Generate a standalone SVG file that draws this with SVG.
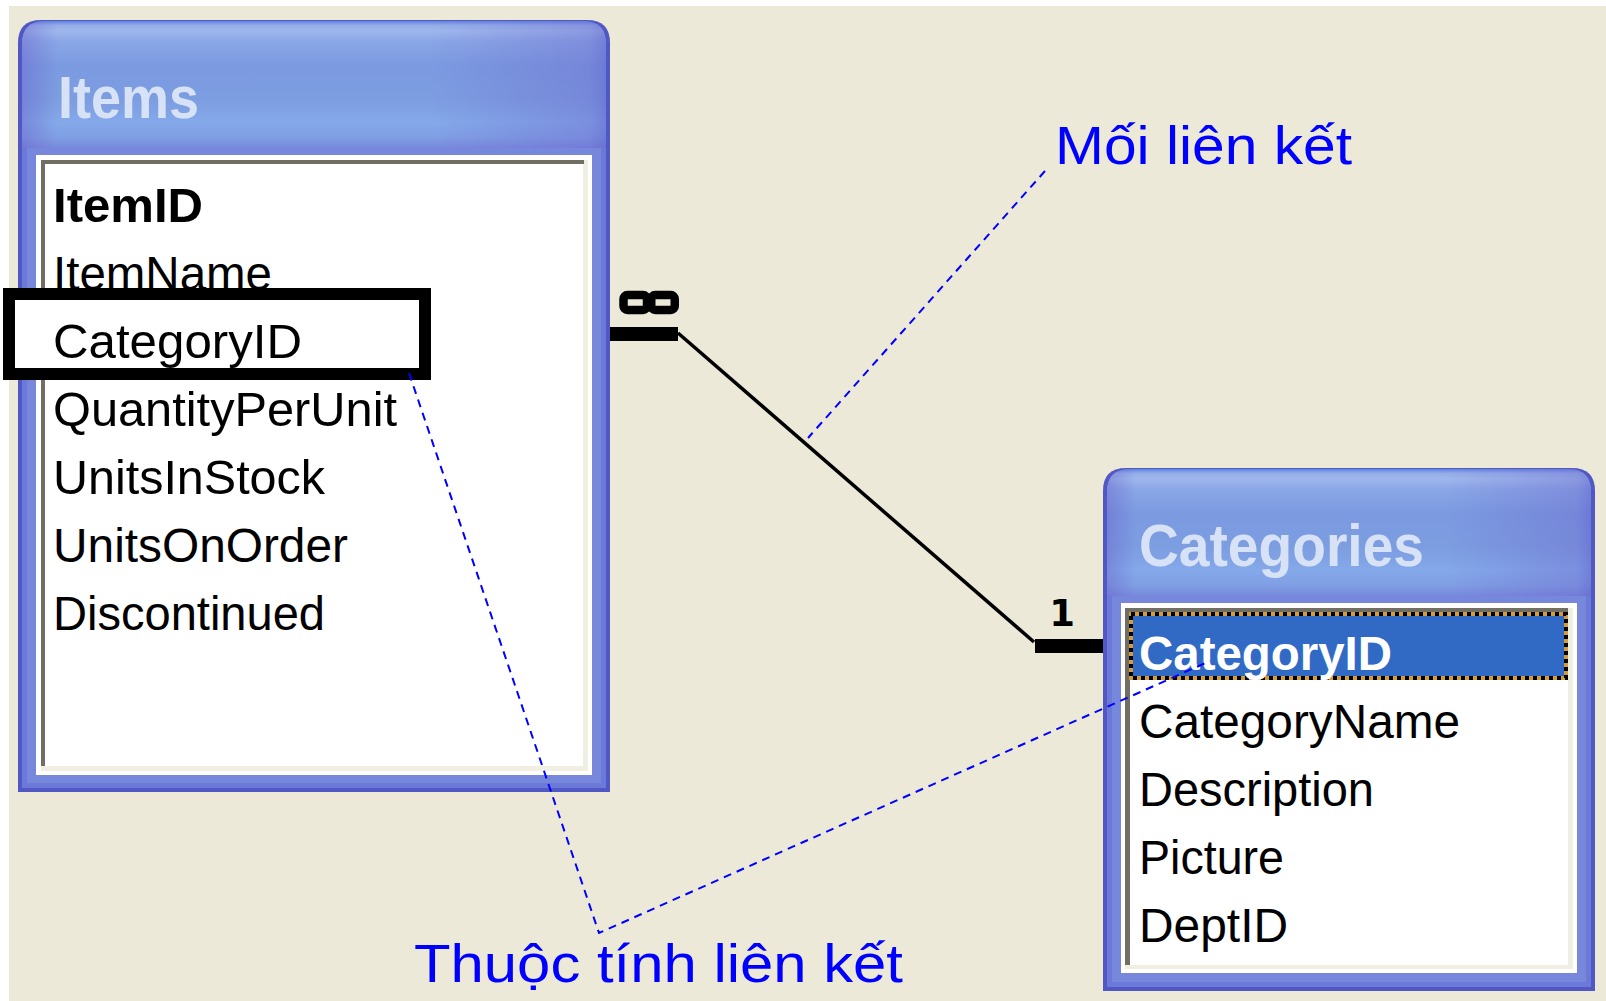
<svg xmlns="http://www.w3.org/2000/svg" width="1606" height="1001" viewBox="0 0 1606 1001">
<defs>
<linearGradient id="tv" x1="0" y1="0" x2="0" y2="1">
 <stop offset="0" stop-color="#6283DF"/>
 <stop offset="0.035" stop-color="#94AEE9"/>
 <stop offset="0.08" stop-color="#9FB7EC"/>
 <stop offset="0.16" stop-color="#8AA6E6"/>
 <stop offset="0.35" stop-color="#7B9AE0"/>
 <stop offset="0.62" stop-color="#7D9DE1"/>
 <stop offset="0.8" stop-color="#84A9E9"/>
 <stop offset="0.92" stop-color="#809EE4"/>
 <stop offset="1" stop-color="#7889DC"/>
</linearGradient>
<linearGradient id="th" x1="0" y1="0" x2="1" y2="0">
 <stop offset="0" stop-color="#6A62CC" stop-opacity="0.45"/>
 <stop offset="0.06" stop-color="#6A62CC" stop-opacity="0"/>
 <stop offset="0.7" stop-color="#6A62CC" stop-opacity="0"/>
 <stop offset="0.97" stop-color="#6A62CC" stop-opacity="0.35"/>
 <stop offset="1" stop-color="#5A58C8" stop-opacity="0.5"/>
</linearGradient>
</defs>
<style>
.edge{fill:#5157C3}
.mid{fill:#6B79D9}
.body{fill:#7787DC}
.band{fill:url(#tv)}
.tint{fill:url(#th)}
.title{font-family:"Liberation Sans",Arial,sans-serif;font-weight:bold;font-size:60px;fill:#D7E2F7}
.fld{font-family:"Liberation Sans",Arial,sans-serif;font-size:48px;fill:#000000}
.pk{font-weight:bold}
.sel{font-weight:bold;fill:#FFFFFF}
.gray{fill:#716F64}
.cream{fill:#F1EFE2}
.white{fill:#FFFFFF}
.hl{fill:#FFFFFF;stroke:#000000;stroke-width:12}
.note{font-family:"Liberation Sans",Arial,sans-serif;font-size:53px;fill:#0000FF}
.dash{fill:none;stroke:#0000FF;stroke-width:2;stroke-dasharray:8 6}
.bar{fill:#000000}
.rel{fill:none;stroke:#000000;stroke-width:3.5}
.ring{fill:none;stroke:#000000;stroke-width:8.5}
.card{font-family:"DejaVu Sans",Verdana,sans-serif;font-weight:bold;font-size:37px;fill:#000000}
</style>
<rect x="0" y="0" width="1606" height="1001" fill="#FFFFFF"/>
<rect x="9" y="6" width="1597" height="995" fill="#ECE9D8"/>

<g id="items">
 <path class="edge" d="M18,43 Q18,20 41,20 H587 Q610,20 610,43 V792 H18 Z"/>
 <path class="mid" d="M22,45 Q22,22 45,22 H583 Q606,22 606,45 V788 H22 Z"/>
 <path class="body" d="M27,47 Q27,24 50,24 H578 Q601,24 601,47 V783 H27 Z"/>
 <path class="band" d="M22,44 Q22,21 45,21 H583 Q606,21 606,44 V148 H22 Z"/>
 <path class="tint" d="M22,44 Q22,21 45,21 H583 Q606,21 606,44 V148 H22 Z"/>
 <text class="title" x="58" y="118" textLength="141" lengthAdjust="spacingAndGlyphs">Items</text>
 <rect class="white" x="36" y="155" width="556" height="620"/>
 <rect class="cream" x="41" y="160" width="547" height="611"/>
 <rect class="gray" x="41" y="160" width="543" height="4"/>
 <rect class="gray" x="41" y="160" width="4" height="606"/>
 <rect class="white" x="45" y="164" width="538" height="602"/>
 <rect class="hl" x="9" y="294" width="416" height="80"/>
 <text class="fld pk" x="53" y="221.5" textLength="150" lengthAdjust="spacingAndGlyphs">ItemID</text>
 <text class="fld" x="53" y="289.5" textLength="219" lengthAdjust="spacingAndGlyphs">ItemName</text>
 <text class="fld" x="53" y="357.5" textLength="249" lengthAdjust="spacingAndGlyphs">CategoryID</text>
 <text class="fld" x="53" y="425.5" textLength="344" lengthAdjust="spacingAndGlyphs">QuantityPerUnit</text>
 <text class="fld" x="53" y="493.5" textLength="272" lengthAdjust="spacingAndGlyphs">UnitsInStock</text>
 <text class="fld" x="53" y="561.5" textLength="295" lengthAdjust="spacingAndGlyphs">UnitsOnOrder</text>
 <text class="fld" x="53" y="629.5" textLength="272" lengthAdjust="spacingAndGlyphs">Discontinued</text>
</g>

<g id="categories">
 <path class="edge" d="M1103,491 Q1103,468 1126,468 H1572 Q1595,468 1595,491 V991 H1103 Z"/>
 <path class="mid" d="M1107,493 Q1107,470 1130,470 H1568 Q1591,470 1591,493 V987 H1107 Z"/>
 <path class="body" d="M1112,495 Q1112,472 1135,472 H1563 Q1586,472 1586,495 V982 H1112 Z"/>
 <path class="band" d="M1107,492 Q1107,469 1130,469 H1568 Q1591,469 1591,492 V596 H1107 Z"/>
 <path class="tint" d="M1107,492 Q1107,469 1130,469 H1568 Q1591,469 1591,492 V596 H1107 Z"/>
 <text class="title" x="1139" y="566" textLength="285" lengthAdjust="spacingAndGlyphs">Categories</text>
 <rect class="white" x="1121" y="603" width="456" height="370"/>
 <rect class="cream" x="1125" y="608" width="448" height="361"/>
 <rect class="gray" x="1125" y="608" width="443" height="4"/>
 <rect class="gray" x="1125" y="608" width="5" height="357"/>
 <rect class="white" x="1130" y="612" width="438" height="353"/>
 <rect x="1131" y="614" width="435" height="64" fill="#316AC5" stroke="#D39B3C" stroke-width="4"/>
 <rect x="1131" y="614" width="435" height="64" fill="none" stroke="#000000" stroke-width="4" stroke-dasharray="4 4"/>
 <text class="fld sel" x="1139" y="670" textLength="253" lengthAdjust="spacingAndGlyphs">CategoryID</text>
 <text class="fld" x="1139" y="738" textLength="321" lengthAdjust="spacingAndGlyphs">CategoryName</text>
 <text class="fld" x="1139" y="806" textLength="235" lengthAdjust="spacingAndGlyphs">Description</text>
 <text class="fld" x="1139" y="874" textLength="145" lengthAdjust="spacingAndGlyphs">Picture</text>
 <text class="fld" x="1139" y="942" textLength="149" lengthAdjust="spacingAndGlyphs">DeptID</text>
</g>

<g id="connectors">
 <rect class="bar" x="610" y="327" width="68" height="14"/>
 <line class="rel" x1="678" y1="333" x2="1034" y2="642"/>
 <rect class="bar" x="1035" y="639" width="68" height="14"/>
 <rect class="ring" x="623.5" y="295" width="23.5" height="15" rx="4"/>
 <rect class="ring" x="651.25" y="295" width="23.5" height="15" rx="4"/>
 <text class="card" x="1062" y="626" text-anchor="middle">1</text>
</g>

<g id="annotations">
 <polyline class="dash" points="1045,171 808,438"/>
 <polyline class="dash" points="409,373 599,933 1210,661"/>
 <text class="note" x="1055" y="164" textLength="297" lengthAdjust="spacingAndGlyphs">Mối liên kết</text>
 <text class="note" x="414" y="981.5" textLength="489" lengthAdjust="spacingAndGlyphs">Thuộc tính liên kết</text>
</g>
</svg>
